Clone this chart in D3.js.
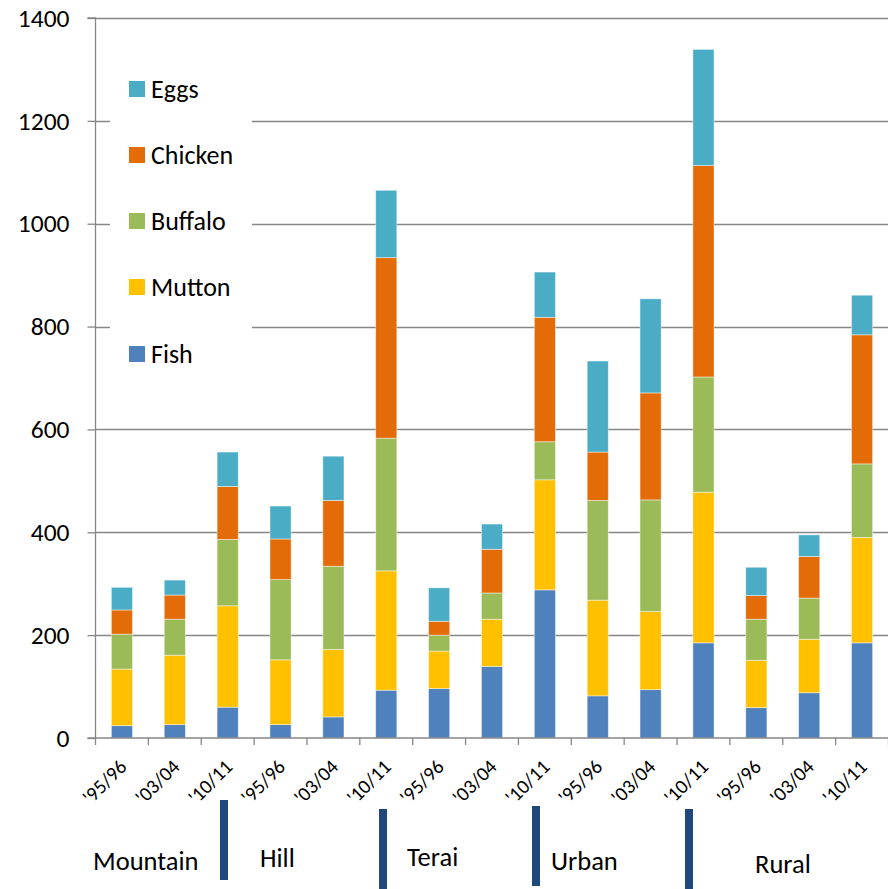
<!DOCTYPE html>
<html><head><meta charset="utf-8">
<script src="https://cdn.jsdelivr.net/npm/d3@7"></script>
<style>body{margin:0;background:#fff}svg{display:block;font-family:Carlito,Calibri,Lato,sans-serif}</style>
</head><body>
<svg id="c" width="888" height="889"></svg>
<script>
const categories = ["'95/96","'03/04","'10/11","'95/96","'03/04","'10/11","'95/96","'03/04","'10/11","'95/96","'03/04","'10/11","'95/96","'03/04","'10/11"];
const seriesNames = ["Fish","Mutton","Buffalo","Chicken","Eggs"];
const fish    = [24, 26, 60, 26, 41, 93, 96, 139, 288, 82, 94, 185, 59, 88, 185];
const mutton  = [110, 135, 197, 126, 131, 232, 73, 92, 214, 186, 152, 293, 92, 104, 205];
const buffalo = [68, 70, 129, 156, 162, 258, 31, 51, 74, 194, 217, 224, 80, 80, 143];
const chicken = [47, 47, 103, 79, 128, 351, 27, 85, 242, 94, 208, 411, 46, 81, 251];
const eggs    = [44, 29, 67, 64, 86, 131, 65, 49, 88, 177, 183, 226, 55, 42, 77];
const colors  = ["#4F81BD","#FFC000","#9BBB59","#E36C09","#4BACC6"];
const yTicks  = [0,200,400,600,800,1000,1200,1400];
const groups  = ["Mountain","Hill","Terai","Urban","Rural"];
// layout (annotation positions, px)
const groupLabelPos = [[93,870],[260,867],[407,866],[551,870],[755,873]];
const separators = [[220,800,80],[379,809,80],[532,806,80],[685,809,80]];

const svg = d3.select("#c");
const L = 95.5, R = 888.5, T = 18, B = 738;
const idx = d3.range(categories.length);
const x = d3.scaleBand().domain(idx).range([L, R]).padding(0);
const y = d3.scaleLinear().domain([0,1400]).range([B, T]);
const grey = "#868686";

// gridlines
svg.append("g").selectAll("line").data(yTicks.filter(d=>d>0)).join("line")
  .attr("x1", L).attr("x2", R).attr("y1", d=>Math.round(y(d))+0.5).attr("y2", d=>Math.round(y(d))+0.5)
  .attr("stroke", grey).attr("stroke-width", 1.3);

// legend background covering gridlines
svg.append("rect").attr("x",110).attr("y",45).attr("width",142).attr("height",345).attr("fill","#fff");

// stacked bars
const table = idx.map(i => ({i, Fish:fish[i], Mutton:mutton[i], Buffalo:buffalo[i], Chicken:chicken[i], Eggs:eggs[i]}));
const stack = d3.stack().keys(seriesNames)(table);
const bw = x.bandwidth()*0.4;
svg.append("g").selectAll("g").data(stack).join("g")
  .attr("fill", (d,k)=>colors[k])
  .selectAll("rect").data(d=>d).join("rect")
  .attr("x", d=>x(d.data.i) + (x.bandwidth()-bw)/2)
  .attr("width", bw)
  .attr("y", d=>y(d[1]))
  .attr("height", d=>y(d[0])-y(d[1]))
  .attr("stroke","#ffffff").attr("stroke-opacity",0.55).attr("stroke-width",0.8);

// y axis
const yAxis = d3.axisLeft(y).tickValues(yTicks).tickSize(8).tickPadding(18).tickFormat(d3.format("d"));
const gy = svg.append("g").attr("transform", `translate(${L},0)`).call(yAxis);
gy.attr("font-size", null).attr("font-family", null);
gy.select(".domain").attr("stroke", grey).attr("stroke-width",1.3).attr("d", `M-8,${T}H0V${B}H-8`);
gy.selectAll(".tick line").attr("stroke", grey).attr("stroke-width",1.3);
gy.selectAll(".tick text").style("font-size", "25.5px").attr("fill","#000");

// x axis line and ticks at category boundaries
svg.append("line").attr("x1", L).attr("x2", R).attr("y1", B).attr("y2", B).attr("stroke", grey).attr("stroke-width",1.3);
const bounds = d3.range(categories.length+1).map(i => L + i*x.step());
svg.append("g").selectAll("line").data(bounds).join("line")
  .attr("x1", d=>d).attr("x2", d=>d).attr("y1", B).attr("y2", B+7)
  .attr("stroke", grey).attr("stroke-width",1.3);

// x tick labels rotated -45
svg.append("g").selectAll("text").data(idx).join("text")
  .attr("transform", i => `translate(${x(i)+x.bandwidth()/2+6},${B+30}) rotate(-45)`)
  .attr("text-anchor","end").style("font-size","20px").attr("fill","#000")
  .text(i=>categories[i]);

// legend
const leg = svg.append("g");
const legOrder = [4,3,2,1,0];
const legY = [89,155,221,287,354];
legOrder.forEach((k,j)=>{
  leg.append("rect").attr("x",129).attr("y",legY[j]-8).attr("width",16).attr("height",16).attr("fill",colors[k]);
  leg.append("text").attr("x",151).attr("y",legY[j]+9)
    .style("font-size","26px").attr("fill","#000").text(seriesNames[k]);
});

// group separators
svg.append("g").selectAll("rect").data(separators).join("rect")
  .attr("x", d=>d[0]).attr("y", d=>d[1]).attr("width",8).attr("height", d=>d[2]).attr("fill","#1F497D");

// group labels
svg.append("g").selectAll("text").data(groups).join("text")
  .attr("x",(d,i)=>groupLabelPos[i][0]).attr("y",(d,i)=>groupLabelPos[i][1])
  .style("font-size","26.5px").attr("fill","#000").text(d=>d);
</script>
</body></html>
